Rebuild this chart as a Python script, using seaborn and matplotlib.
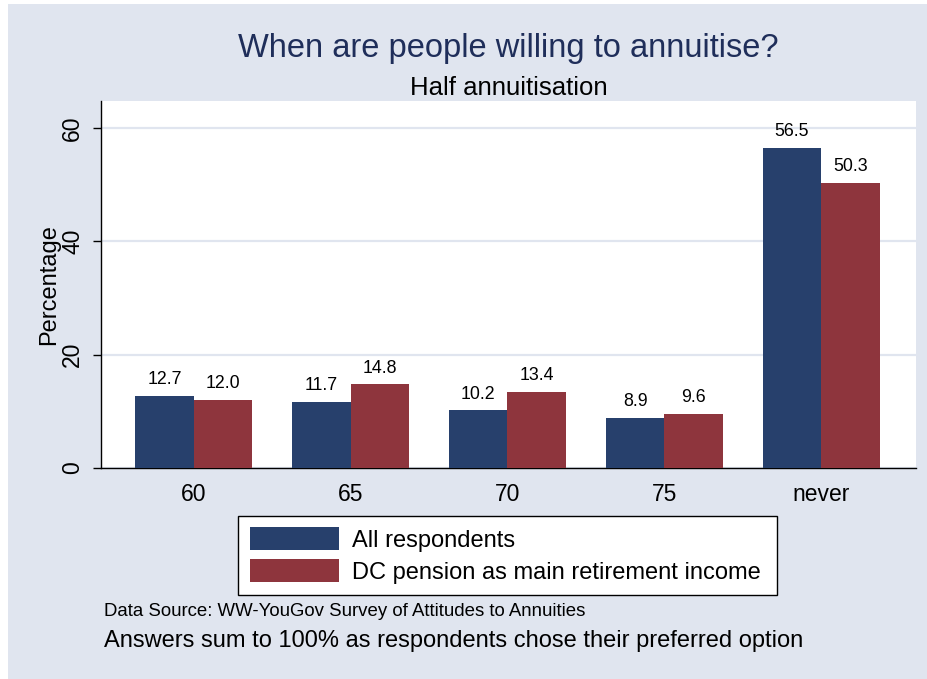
import matplotlib
matplotlib.use("Agg")
import matplotlib.pyplot as plt
from matplotlib.patches import Rectangle
import pandas as pd
import seaborn as sns

# Survey answers: preferred age to annuitise half of the pension pot
ages = ["60", "65", "70", "75", "never"]
all_respondents = [12.7, 11.7, 10.2, 8.9, 56.5]
dc_pension = [12.0, 14.8, 13.4, 9.6, 50.3]
series_names = ["All respondents", "DC pension as main retirement income"]
y_ticks = [0, 20, 40, 60]

BG = "#E0E5EF"
NAVY = "#27406C"
MAROON = "#8E353D"

df = pd.DataFrame({
    "age": ages * 2,
    "pct": all_respondents + dc_pension,
    "group": [series_names[0]] * len(ages) + [series_names[1]] * len(ages),
})

sns.set_theme(style="white")
plt.rcParams["font.family"] = ["Liberation Sans", "DejaVu Sans"]
plt.rcParams["text.color"] = "black"
plt.rcParams["axes.labelcolor"] = "black"
plt.rcParams["xtick.color"] = "black"
plt.rcParams["ytick.color"] = "black"

W, H = 928, 679
fig = plt.figure(figsize=(W / 100, H / 100), dpi=100, facecolor="white")
# bluish-grey graph region with a thin white margin on the top/left
fig.patches.append(Rectangle((8 / W, 0), 1 - 8 / W, 1 - 4 / H,
                             transform=fig.transFigure, facecolor=BG,
                             edgecolor="none", zorder=-10))

ax = fig.add_axes([101 / W, 1 - 468 / H, (916 - 101) / W, (468 - 101) / H])
ax.set_facecolor("white")

sns.barplot(data=df, x="age", y="pct", hue="group", order=ages,
            hue_order=series_names, palette=[NAVY, MAROON], saturation=1,
            width=0.745, gap=0, linewidth=0, ax=ax, legend=True, zorder=3)

for cont in ax.containers:
    ax.bar_label(cont, fmt="%.1f", padding=5.5, fontsize=12.8, color="black")

ax.set_xlim(-0.592, 4.605)
ax.set_ylim(0, 64.8)
ax.set_yticks(y_ticks)
ax.set_yticklabels([str(t) for t in y_ticks], rotation=90, va="center")
ax.yaxis.grid(True, color=BG, linewidth=1.6, zorder=0)
ax.set_axisbelow(True)
ax.tick_params(axis="y", length=6, width=1, color="black", labelcolor="black",
               pad=6, labelsize=16.5, left=True)
ax.tick_params(axis="x", length=0, pad=11, labelsize=16.5, labelcolor="black")
ax.set_xlabel("")
ax.set_ylabel("Percentage", fontsize=17, labelpad=1, color="black")

for side in ("top", "right"):
    ax.spines[side].set_visible(False)
for side in ("left", "bottom"):
    ax.spines[side].set_color("black")
    ax.spines[side].set_linewidth(1.0)

handles, labels = ax.get_legend_handles_labels()
ax.get_legend().remove()
leg = fig.legend(handles, labels,
                 bbox_to_anchor=(238 / W, 1 - 596 / H, (777 - 238) / W, (596 - 515) / H),
                 loc="center", mode="expand", ncol=1, fontsize=17,
                 handlelength=3.77, handleheight=1.12, handletextpad=0.55,
                 labelspacing=0.3, borderpad=0.5, borderaxespad=0,
                 fancybox=False, framealpha=1, facecolor="white",
                 edgecolor="black")
leg.get_frame().set_linewidth(1.0)

cx = (101 + 916) / 2 / W
fig.text(cx, 1 - 57 / H, "When are people willing to annuitise?", ha="center",
         va="baseline", fontsize=23.5, color="#1F2E5A")
fig.text(cx, 1 - 95 / H, "Half annuitisation", ha="center", va="baseline",
         fontsize=18.5, color="black")
fig.text(104 / W, 1 - 616 / H, "Data Source: WW-YouGov Survey of Attitudes to Annuities",
         ha="left", va="baseline", fontsize=13.4, color="black")
fig.text(104 / W, 1 - 647 / H,
         "Answers sum to 100% as respondents chose their preferred option",
         ha="left", va="baseline", fontsize=17, color="black")

fig.savefig("out.png", dpi=100, facecolor=fig.get_facecolor())
